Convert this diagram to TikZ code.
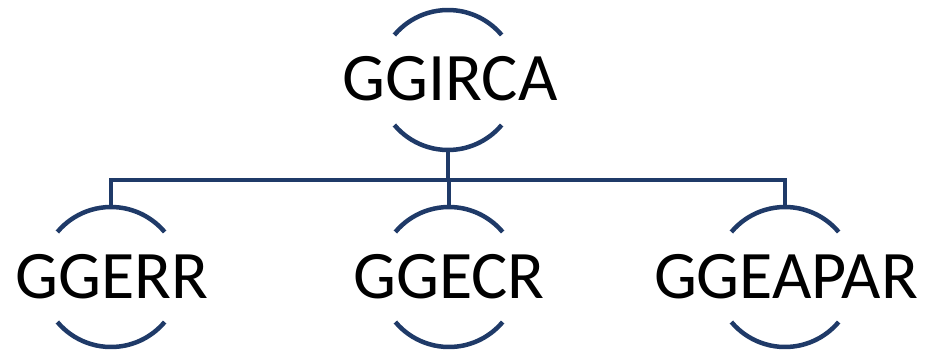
\documentclass[tikz,border=0pt]{standalone}
\usepackage{fontspec}
\setmainfont{Carlito}
\definecolor{navy}{HTML}{1F3A68}
\begin{document}
\begin{tikzpicture}[x=1pt,y=1pt,
  ring/.style={circle,inner sep=0pt,outer sep=0pt,minimum size=140pt},
  lbl/.style={inner sep=0pt,font=\fontsize{68}{70}\selectfont,anchor=base},
  ln/.style={draw=navy,line width=4.5pt}]
\useasboundingbox (0,0) rectangle (934,-351);
% rings (invisible circle nodes)
\node[ring] (top) at (448,-80) {};
\node[ring] (n1) at (111,-277) {};
\node[ring] (n2) at (449,-277) {};
\node[ring] (n3) at (785,-277) {};
% labels
\node[lbl] (ttop) at (450,-100) {GGIRCA};
\node[lbl] (t1) at (112,-298) {GGERR};
\node[lbl] (t2) at (449,-298) {GGECR};
\node[lbl] (t3) at (786,-298) {GGEAPAR};
% arcs
\foreach \n in {top,n1,n2,n3}{
  \draw[ln] (\n.140) arc[start angle=140,end angle=40,radius=70pt];
  \draw[ln] (\n.220) arc[start angle=220,end angle=320,radius=70pt];
}
% connectors
\coordinate (bus) at (0,-180);
\draw[ln] (top.south) -- (top.south |- bus);
\draw[ln] (n1.north) -- (n1.north |- bus) -- (n3.north |- bus) -- (n3.north);
\draw[ln] (n2.north) -- (n2.north |- bus);
\end{tikzpicture}
\end{document}
